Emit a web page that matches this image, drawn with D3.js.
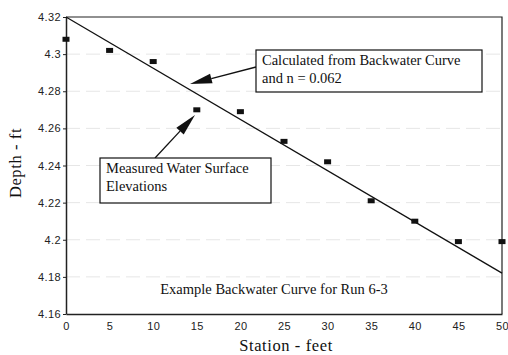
<!DOCTYPE html>
<html>
<head>
<meta charset="utf-8">
<script src="https://cdn.jsdelivr.net/npm/d3@7"></script>
<style>
	body { margin: 0; background: #fff; }
	svg text.serif { font-family: 'Liberation Serif', 'Times New Roman', serif; fill: #111; }
	svg .tick text { font-family: 'Liberation Sans', Arial, sans-serif; font-size: 11px; letter-spacing: 0.4px; fill: #222; }
</style>
</head>
<body>
<svg id="chart" width="508" height="355"></svg>
<script>
// MEASURED WATER SURFACE
const stations = [0, 5, 10, 15, 20, 25, 30, 35, 40, 45, 50]
const measured = [4.308, 4.302, 4.296, 4.270, 4.269, 4.253, 4.242, 4.221, 4.210, 4.199, 4.199]
// CALCULATED FROM BACKWATER CURVE
const calcStations = [0, 50]
const calculated = [4.320, 4.182]
// TICKS
const xTicks = [0, 5, 10, 15, 20, 25, 30, 35, 40, 45, 50]
const yTicks = [4.16, 4.18, 4.2, 4.22, 4.24, 4.26, 4.28, 4.3, 4.32]

function draw () {
	const svg = d3.select('svg#chart')
	const left = 66, right = 502, top = 17, bottom = 314

	const x = d3.scaleLinear().domain([0, 50]).range([left, right])
	const y = d3.scaleLinear().domain([4.16, 4.32]).range([bottom, top])

	// FAINT GRID
	svg.append('g')
	.selectAll('line')
	.data(yTicks.slice(1, -1))
	.join('line')
	.attr('x1', left).attr('x2', right)
	.attr('y1', d => y(d)).attr('y2', d => y(d))
	.attr('stroke', '#e6e6e6').attr('stroke-dasharray', '14 6')

	// FRAME
	svg.append('path')
	.attr('d', `M${left},${top}H${right}V${bottom}`)
	.attr('fill', 'none').attr('stroke', '#222').attr('stroke-width', 1.2)

	// AXES
	svg.append('g')
	.attr('transform', `translate(0,${bottom})`)
	.call(d3.axisBottom(x).tickValues(xTicks).tickFormat(d3.format('d')).tickSize(0).tickPadding(8))
	.call(g => g.select('.domain').attr('stroke', '#222').attr('stroke-width', 1.5))

	svg.append('g')
	.attr('transform', `translate(${left},0)`)
	.call(d3.axisLeft(y).tickValues(yTicks).tickFormat(d => +d.toFixed(2)).tickSize(3).tickSizeOuter(0).tickPadding(2))
	.call(g => g.select('.domain').attr('stroke', '#222').attr('stroke-width', 1.5))
	.call(g => g.selectAll('.tick line').attr('stroke', '#222'))

	// CALCULATED LINE
	const line = d3.line().x((d, i) => x(calcStations[i])).y(d => y(d))
	svg.append('path')
	.attr('d', line(calculated))
	.attr('fill', 'none').attr('stroke', '#111').attr('stroke-width', 1.3)

	// MEASURED POINTS
	svg.append('g')
	.selectAll('rect')
	.data(measured)
	.join('rect')
	.attr('x', (d, i) => x(stations[i]) - 3.5)
	.attr('y', d => y(d) - 2.5)
	.attr('width', 7).attr('height', 5)
	.attr('fill', '#111')

	// ANNOTATION BOXES
	const notes = [
		{ box: [256, 50, 226, 42], lines: ['Calculated from Backwater Curve', 'and n = 0.062'], from: [256, 67], to: [190, 84] },
		{ box: [100, 158, 171, 45], lines: ['Measured Water Surface', 'Elevations'], from: [155, 158], to: [195, 115] }
	]
	notes.forEach(n => {
		const [x1, y1] = n.from, [x2, y2] = n.to
		const ang = Math.atan2(y2 - y1, x2 - x1)
		const hl = 22, hw = 5
		const bx = x2 - hl * Math.cos(ang), by = y2 - hl * Math.sin(ang)
		svg.append('line')
		.attr('x1', x1).attr('y1', y1).attr('x2', bx).attr('y2', by)
		.attr('stroke', '#111').attr('stroke-width', 1.3)
		svg.append('path')
		.attr('d', `M${x2},${y2}L${bx - hw * Math.sin(ang)},${by + hw * Math.cos(ang)}L${bx + hw * Math.sin(ang)},${by - hw * Math.cos(ang)}Z`)
		.attr('fill', '#111')
		svg.append('rect')
		.attr('x', n.box[0]).attr('y', n.box[1]).attr('width', n.box[2]).attr('height', n.box[3])
		.attr('fill', '#fff').attr('stroke', '#111').attr('stroke-width', 1.2)
		n.lines.forEach((t, i) => {
			svg.append('text').attr('class', 'serif')
			.attr('x', n.box[0] + 6).attr('y', n.box[1] + 15 + i * 17.5)
			.attr('font-size', 14.5).text(t)
		})
	})

	svg.append('text').attr('class', 'serif')
	.attr('x', 274).attr('y', 294).attr('text-anchor', 'middle')
	.attr('font-size', 14.5).text('Example Backwater Curve for Run 6-3')

	// AXIS TITLES
	svg.append('text').attr('class', 'serif')
	.attr('x', 286).attr('y', 351).attr('text-anchor', 'middle')
	.attr('font-size', 16.5).attr('letter-spacing', 0.6).text('Station - feet')

	svg.append('text').attr('class', 'serif')
	.attr('transform', 'translate(21,163) rotate(-90)').attr('text-anchor', 'middle')
	.attr('font-size', 16.5).attr('letter-spacing', 0.6).text('Depth - ft')
}

if (document.readyState === 'loading') {
	document.addEventListener('DOMContentLoaded', draw)
} else {
	draw()
}
</script>
</body>
</html>
